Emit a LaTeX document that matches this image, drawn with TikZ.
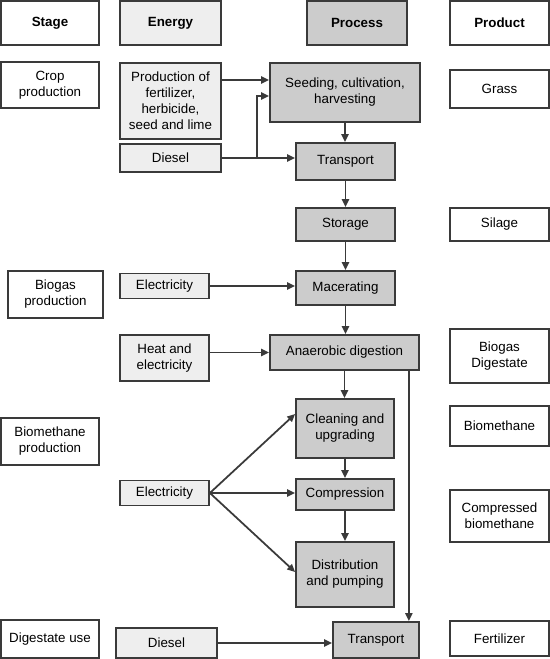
\documentclass[tikz,border=0pt]{standalone}
\usepackage{fontspec}
\setmainfont{Liberation Sans}
\usepackage{tikz}
\usetikzlibrary{arrows.meta,positioning}
\definecolor{edgegray}{HTML}{3A3A3A}
\definecolor{nrgfill}{HTML}{EEEEEE}
\definecolor{prcfill}{HTML}{CCCCCC}

\begin{document}
\begin{tikzpicture}[x=0.02cm, y=-0.02cm,
  box/.style={draw=edgegray, line width=1pt, align=center, inner sep=0pt, font=\fontsize{7.6}{9.1}\selectfont},
  stg/.style={box, fill=white},
  nrg/.style={box, fill=nrgfill},
  prc/.style={box, fill=prcfill},
  hdr/.style={font=\fontsize{7.6}{9.1}\selectfont\bfseries},
  arr/.style={draw=edgegray, line width=1pt, -{Triangle[length=4.5pt, width=4pt]}}
]
\useasboundingbox (0,0) rectangle (550,659);

%--- Header row ---
\node[stg, hdr, minimum width=1.96cm, minimum height=0.88cm] (hstage) at (50,23) {Stage};
\node[nrg, hdr, minimum width=2.02cm, minimum height=0.88cm] (henergy) at (170.5,23) {Energy};
\node[prc, hdr, minimum width=2.0cm, minimum height=0.88cm] (hprocess) at (357,23) {Process};
\node[stg, hdr, minimum width=1.98cm, minimum height=0.88cm] (hproduct) at (499.5,23) {Product};

%--- Crop production ---
\node[stg, minimum width=1.96cm, minimum height=0.92cm] (crop) at (50,85) {Crop\\production};
\node[nrg, minimum width=2.02cm, minimum height=1.52cm] (inputs) at (170.5,101) {Production of\\fertilizer,\\herbicide,\\seed and lime};
\node[nrg, minimum width=2.02cm, minimum height=0.56cm] (diesel1) at (170.5,158) {Diesel};
\node[prc, minimum width=3.0cm, minimum height=1.18cm] (seed) at (345,92.5) {Seeding, cultivation,\\harvesting};
\node[stg, minimum width=1.98cm, minimum height=0.76cm] (grass) at (499.5,89) {Grass};
\node[prc, minimum width=1.98cm, minimum height=0.74cm] (trans1) at (345.5,161.5) {Transport};
\node[prc, minimum width=1.98cm, minimum height=0.66cm] (storage) at (345.5,224.5) {Storage};
\node[stg, minimum width=1.98cm, minimum height=0.66cm] (silage) at (499.5,224.5) {Silage};

%--- Biogas production ---
\node[stg, minimum width=1.9cm, minimum height=0.94cm] (biogasprod) at (55.5,294.5) {Biogas\\production};
\node[nrg, minimum width=1.78cm, minimum height=0.5cm] (elec1) at (164.5,286) {Electricity};
\node[prc, minimum width=1.98cm, minimum height=0.68cm] (mac) at (345.5,288) {Macerating};
\node[nrg, minimum width=1.78cm, minimum height=0.92cm] (heat) at (164.5,358) {Heat and\\electricity};
\node[prc, minimum width=2.98cm, minimum height=0.7cm] (anaer) at (344.5,352.5) {Anaerobic digestion};
\node[stg, minimum width=1.98cm, minimum height=1.08cm] (biogas) at (499.5,356) {Biogas\\Digestate};

%--- Biomethane production ---
\node[stg, minimum width=1.96cm, minimum height=0.94cm] (methprod) at (50,441.5) {Biomethane\\production};
\node[prc, minimum width=1.96cm, minimum height=1.18cm] (clean) at (345,428.5) {Cleaning and\\upgrading};
\node[stg, minimum width=1.98cm, minimum height=0.8cm] (methane) at (499.5,426) {Biomethane};
\node[nrg, minimum width=1.78cm, minimum height=0.5cm] (elec2) at (164.5,493) {Electricity};
\node[prc, minimum width=1.96cm, minimum height=0.62cm] (comp) at (345,494.5) {Compression};
\node[stg, minimum width=1.98cm, minimum height=1.04cm] (cbm) at (499.5,516) {Compressed\\biomethane};
\node[prc, minimum width=1.96cm, minimum height=1.3cm] (dist) at (345,574.5) {Distribution\\and pumping};

%--- Digestate use ---
\node[stg, minimum width=1.96cm, minimum height=0.76cm] (digest) at (50,639) {Digestate use};
\node[nrg, minimum width=2.02cm, minimum height=0.6cm] (diesel2) at (166.5,643) {Diesel};
\node[prc, minimum width=1.72cm, minimum height=0.72cm] (trans2) at (376,640) {Transport};
\node[stg, minimum width=1.98cm, minimum height=0.7cm] (fert) at (499.5,638.5) {Fertilizer};

%--- Energy inputs ---
\coordinate (seedin1) at ([yshift=0.25cm]seed.west);
\coordinate (seedin2) at ([yshift=-0.07cm]seed.west);
\coordinate (forkup) at ([xshift=-0.24cm]seed.west);
\draw[arr] (seedin1 -| inputs.east) -- (seedin1);
\draw[arr] (diesel1.east) -- (diesel1.east -| trans1.west);
\draw[arr] (forkup |- diesel1.east) |- (seedin2);
\draw[arr] (elec1.east) -- (elec1.east -| mac.west);
\draw[arr] (anaer.west -| heat.east) -- (anaer.west);
\draw[arr] (elec2.east) -- ([yshift=0.29cm]clean.west);
\draw[arr] (elec2.east) -- (elec2.east -| comp.west);
\draw[arr] (elec2.east) -- ([yshift=0.05cm]dist.west);
\draw[arr] (diesel2.east) -- (diesel2.east -| trans2.west);

%--- Process chain ---
\foreach \a/\b in {seed/trans1, trans1/storage, storage/mac, mac/anaer, anaer/clean, clean/comp, comp/dist}
  \draw[arr] (\a.south) -- (\a.south |- \b.north);
\coordinate (bypass) at ([xshift=-0.22cm]anaer.south east);
\draw[arr] (bypass) -- (bypass |- trans2.north);
\end{tikzpicture}
\end{document}
